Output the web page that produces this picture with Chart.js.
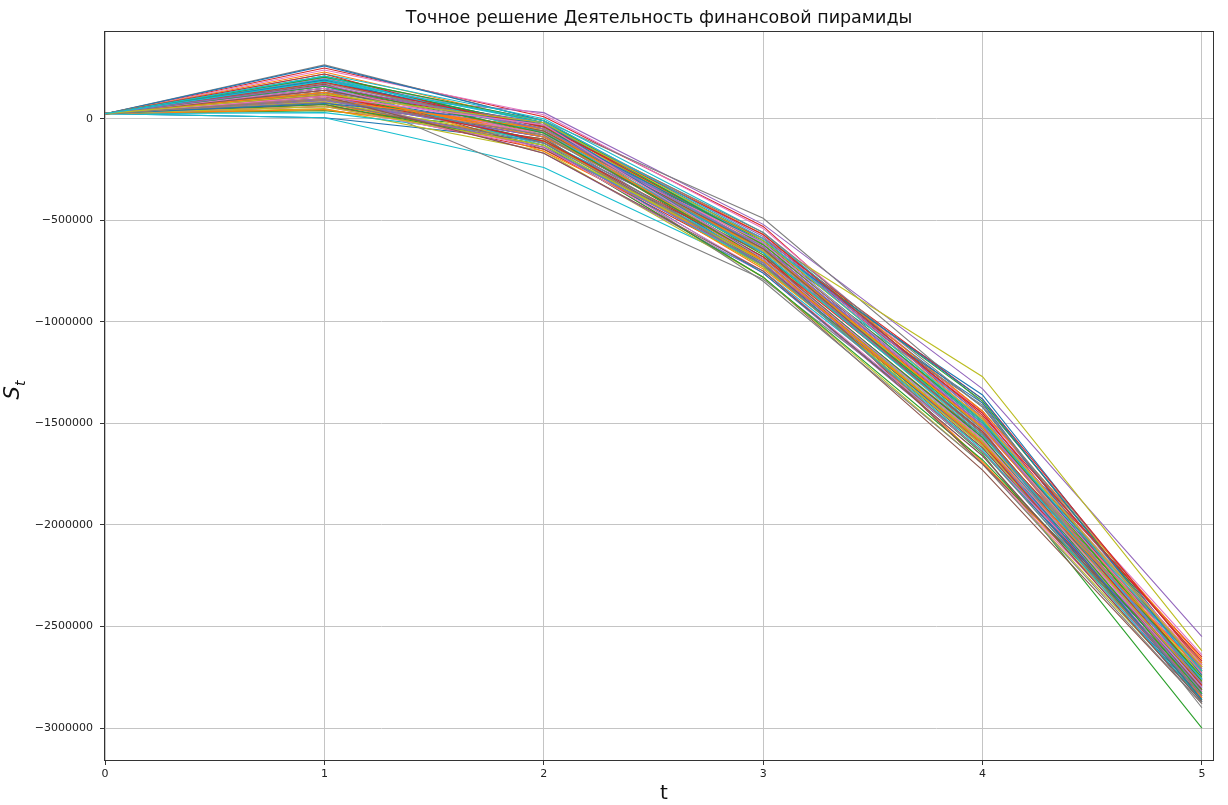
<!DOCTYPE html>
<html>
<head>
<meta charset="utf-8">
<script src="https://cdn.jsdelivr.net/npm/chart.js@4/dist/chart.umd.min.js"></script>
<style>
  html, body { margin: 0; padding: 0; background: #fff; }
  #wrap { width: 1228px; height: 805px; }
</style>
</head>
<body>
<div id="wrap"><canvas id="myChart"></canvas></div>
<script>
// time points and y ticks
var tPoints = [0, 1, 2, 3, 4, 5];
var yTickValues = [0, -500000, -1000000, -1500000, -2000000, -2500000, -3000000];

// trajectories S_t, grouped by the colour matplotlib gave them
var blueRuns = [
    [25000, 5000, -110000, -640000, -1360000, -2720000],
    [25000, 260000, -10000, -600000, -1420000, -2780000],
    [25000, 120000, -60000, -680000, -1400000, -2830000],
    [25000, 180000, -30000, -720000, -1600000, -2870000],
    [25000, 90000, -90000, -650000, -1480000, -2760000],
    [25000, 150000, -120000, -760000, -1640000, -2800000],
    [25000, 190000, -50000, -610000, -1380000, -2740000],
    [25000, 75000, -20000, -690000, -1570000, -2860000]
];
var orangeRuns = [
    [25000, 60000, -40000, -620000, -1500000, -2700000],
    [25000, 230000, -20000, -570000, -1440000, -2660000],
    [25000, 80000, -140000, -700000, -1560000, -2740000],
    [25000, 110000, -70000, -660000, -1690000, -2820000],
    [25000, 45000, -100000, -740000, -1580000, -2680000],
    [25000, 170000, -160000, -690000, -1470000, -2850000],
    [25000, 130000, -90000, -640000, -1520000, -2770000],
    [25000, 95000, -50000, -700000, -1600000, -2720000]
];
var greenRuns = [
    [25000, 40000, -60000, -710000, -1650000, -3000000],
    [25000, 210000, -20000, -640000, -1540000, -2790000],
    [25000, 190000, -80000, -600000, -1390000, -2720000],
    [25000, 130000, -110000, -730000, -1590000, -2860000],
    [25000, 200000, -40000, -670000, -1520000, -2750000],
    [25000, 70000, -130000, -780000, -1680000, -2810000],
    [25000, 205000, -10000, -620000, -1490000, -2770000],
    [25000, 160000, -70000, -690000, -1570000, -2830000]
];
var redRuns = [
    [25000, 250000, 10000, -530000, -1490000, -2650000],
    [25000, 100000, -90000, -590000, -1380000, -2690000],
    [25000, 160000, -50000, -650000, -1510000, -2730000],
    [25000, 70000, -150000, -720000, -1560000, -2700000],
    [25000, 140000, -30000, -610000, -1450000, -2770000],
    [25000, 220000, -70000, -690000, -1600000, -2840000],
    [25000, 120000, -110000, -680000, -1540000, -2790000],
    [25000, 180000, -40000, -570000, -1460000, -2670000]
];
var purpleRuns = [
    [25000, 130000, 30000, -520000, -1330000, -2550000],
    [25000, 150000, -120000, -620000, -1500000, -2760000],
    [25000, 110000, -60000, -700000, -1610000, -2800000],
    [25000, 120000, -170000, -760000, -1660000, -2870000],
    [25000, 140000, -20000, -580000, -1470000, -2710000],
    [25000, 90000, -90000, -650000, -1550000, -2820000],
    [25000, 100000, -140000, -710000, -1590000, -2840000],
    [25000, 165000, -50000, -630000, -1510000, -2780000]
];
var brownRuns = [
    [25000, 100000, -50000, -600000, -1440000, -2700000],
    [25000, 80000, -130000, -780000, -1730000, -2880000],
    [25000, 120000, -80000, -680000, -1580000, -2790000],
    [25000, 150000, -20000, -620000, -1500000, -2730000],
    [25000, 60000, -100000, -720000, -1620000, -2850000],
    [25000, 170000, -150000, -660000, -1700000, -2760000],
    [25000, 140000, -60000, -640000, -1550000, -2810000],
    [25000, 110000, -170000, -750000, -1660000, -2870000]
];
var pinkRuns = [
    [25000, 240000, 20000, -540000, -1450000, -2640000],
    [25000, 170000, -40000, -630000, -1530000, -2700000],
    [25000, 130000, -110000, -700000, -1570000, -2780000],
    [25000, 90000, -70000, -660000, -1700000, -2830000],
    [25000, 200000, -10000, -590000, -1480000, -2690000],
    [25000, 60000, -140000, -750000, -1640000, -2760000],
    [25000, 150000, -80000, -610000, -1510000, -2730000],
    [25000, 110000, -30000, -690000, -1580000, -2800000]
];
var grayRuns = [
    [25000, 265000, -10000, -490000, -1400000, -2680000],
    [25000, 150000, -300000, -790000, -1620000, -2810000],
    [25000, 110000, -60000, -630000, -1530000, -2900000],
    [25000, 200000, -90000, -800000, -1700000, -2880000],
    [25000, 130000, -30000, -560000, -1420000, -2720000],
    [25000, 80000, -120000, -700000, -1410000, -2790000],
    [25000, 175000, -50000, -660000, -1550000, -2760000],
    [25000, 95000, -80000, -720000, -1640000, -2840000]
];
var oliveRuns = [
    [25000, 70000, -50000, -590000, -1270000, -2620000],
    [25000, 50000, -160000, -780000, -1700000, -2860000],
    [25000, 100000, -80000, -670000, -1550000, -2750000],
    [25000, 140000, -30000, -620000, -1490000, -2690000],
    [25000, 85000, -110000, -730000, -1610000, -2810000],
    [25000, 180000, -60000, -650000, -1520000, -2740000],
    [25000, 60000, -130000, -700000, -1590000, -2780000],
    [25000, 120000, -20000, -600000, -1480000, -2700000]
];
var cyanRuns = [
    [25000, 5000, -240000, -750000, -1600000, -2780000],
    [25000, 220000, 0, -560000, -1470000, -2710000],
    [25000, 200000, -40000, -640000, -1540000, -2800000],
    [25000, 30000, -100000, -700000, -1580000, -2760000],
    [25000, 195000, -20000, -610000, -1500000, -2830000],
    [25000, 160000, -130000, -720000, -1630000, -2870000],
    [25000, 210000, -70000, -660000, -1560000, -2760000],
    [25000, 185000, -10000, -590000, -1490000, -2720000]
];

var groups = [
    { runs: blueRuns, color: '#1f77b4' },
    { runs: orangeRuns, color: '#ff7f0e' },
    { runs: greenRuns, color: '#2ca02c' },
    { runs: redRuns, color: '#d62728' },
    { runs: purpleRuns, color: '#9467bd' },
    { runs: brownRuns, color: '#8c564b' },
    { runs: pinkRuns, color: '#e377c2' },
    { runs: grayRuns, color: '#7f7f7f' },
    { runs: oliveRuns, color: '#bcbd22' },
    { runs: cyanRuns, color: '#17becf' }
];

// interleave like the colour cycle did: run k of every colour, then k+1
var datasets = [];
for (var k = 0; k < 8; k++) {
    groups.forEach(function (g) {
        var run = g.runs[k];
        datasets.push({
            data: tPoints.map(function (t, i) { return { x: t, y: run[i] }; }),
            borderColor: g.color,
            borderWidth: 1.1,
            pointRadius: 0,
            tension: 0,
            fill: false
        });
    });
}
datasets.reverse(); // first dataset is drawn on top in Chart.js

function fmtMinus(v) {
    return v < 0 ? '\u2212' + Math.abs(v) : String(v);
}

// frame, title, axis labels
var decorations = {
    id: 'decorations',
    afterDraw: function (chart) {
        var ctx = chart.ctx;
        var a = chart.chartArea;
        ctx.save();
        ctx.strokeStyle = '#333';
        ctx.lineWidth = 1;
        ctx.strokeRect(a.left + 0.5, a.top + 0.5, a.right - a.left - 1, a.bottom - a.top - 1);

        ctx.fillStyle = '#111';
        ctx.font = '17.5px "DejaVu Sans"';
        ctx.textAlign = 'center';
        ctx.textBaseline = 'middle';
        ctx.fillText('Точное решение Деятельность финансовой пирамиды', (a.left + a.right) / 2, 18);

        ctx.font = '20px "DejaVu Sans"';
        ctx.fillText('t', 664, 794);

        ctx.translate(19, 390);
        ctx.rotate(-Math.PI / 2);
        ctx.textAlign = 'left';
        ctx.textBaseline = 'alphabetic';
        ctx.font = 'italic 21px "DejaVu Sans"';
        var sw = ctx.measureText('S').width;
        ctx.font = 'italic 14px "DejaVu Sans"';
        var tw = ctx.measureText('t').width;
        var x0 = -(sw + tw) / 2;
        ctx.font = 'italic 21px "DejaVu Sans"';
        ctx.fillText('S', x0, 0);
        ctx.font = 'italic 14px "DejaVu Sans"';
        ctx.fillText('t', x0 + sw, 6);
        ctx.restore();
    }
};

new Chart(document.getElementById('myChart').getContext('2d'), {
    type: 'line',
    data: { datasets: datasets },
    plugins: [decorations],
    options: {
        responsive: true,
        maintainAspectRatio: false,
        animation: false,
        layout: { padding: { top: 31, right: 14, left: 0, bottom: 0 } },
        plugins: {
            legend: { display: false },
            tooltip: { enabled: false },
            title: { display: false }
        },
        scales: {
            x: {
                type: 'linear',
                min: -0.005,
                max: 5.055,
                afterFit: function (s) { s.height = 44; },
                ticks: {
                    stepSize: 1,
                    includeBounds: false,
                    padding: 3,
                    color: '#222',
                    font: { family: 'DejaVu Sans', size: 11 },
                    maxRotation: 0
                },
                grid: { color: '#c4c4c4', lineWidth: 1, tickColor: '#333', tickLength: 4 },
                border: { display: false }
            },
            y: {
                type: 'linear',
                min: -3162000,
                max: 432000,
                afterFit: function (s) { s.width = 104; },
                afterBuildTicks: function (s) {
                    s.ticks = yTickValues.map(function (v) { return { value: v }; });
                },
                ticks: {
                    padding: 7,
                    color: '#222',
                    font: { family: 'DejaVu Sans', size: 11 },
                    callback: function (v) { return fmtMinus(v); }
                },
                grid: { color: '#c4c4c4', lineWidth: 1, tickColor: '#333', tickLength: 4 },
                border: { display: false }
            }
        }
    }
});
</script>
</body>
</html>
